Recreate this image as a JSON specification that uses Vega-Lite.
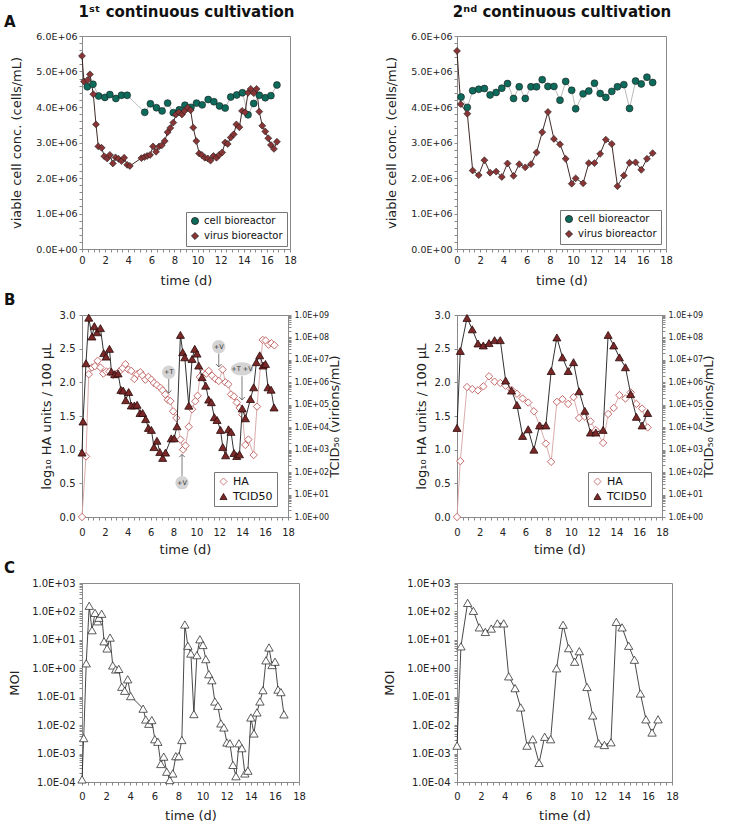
{
"$schema": "https://vega.github.io/schema/vega-lite/v6.json",
"background": "white",
"padding": {"left": 3, "top": 3, "right": 3, "bottom": 3},
"config": {
  "font": "DejaVu Sans",
  "view": {"stroke": "#8a8a8a", "strokeWidth": 1},
  "axis": {"grid": false, "domainColor": "#8a8a8a", "tickColor": "#8a8a8a", "labelFont": "DejaVu Sans", "labelFontSize": 9, "labelColor": "#222", "titleFont": "DejaVu Sans", "titleFontSize": 13, "titleFontWeight": "normal", "titleColor": "#222", "tickSize": 3, "labelPadding": 2, "labelFlush": false, "labelOverlap": false},
  "legend": {"labelFont": "DejaVu Sans", "labelFontSize": 10, "labelColor": "#111", "strokeColor": "#777", "fillColor": "white", "padding": 4, "rowPadding": 3, "symbolSize": 50, "symbolStrokeWidth": 0.8, "cornerRadius": 0},
  "title": {"anchor": "start", "frame": "group", "fontSize": 15, "fontWeight": "bold", "font": "DejaVu Sans", "color": "#111", "offset": 2}
},
"datasets": {
  "a1": [
    {"t":0.46,"v":4.57e6,"s":"cell bioreactor"},{"t":0.95,"v":4.64e6,"s":"cell bioreactor"},{"t":1.44,"v":4.31e6,"s":"cell bioreactor"},{"t":1.98,"v":4.27e6,"s":"cell bioreactor"},{"t":2.41,"v":4.35e6,"s":"cell bioreactor"},{"t":2.93,"v":4.24e6,"s":"cell bioreactor"},{"t":3.42,"v":4.33e6,"s":"cell bioreactor"},{"t":3.91,"v":4.33e6,"s":"cell bioreactor"},{"t":5.43,"v":3.85e6,"s":"cell bioreactor"},{"t":5.92,"v":4.09e6,"s":"cell bioreactor"},{"t":6.44,"v":3.98e6,"s":"cell bioreactor"},{"t":6.93,"v":3.89e6,"s":"cell bioreactor"},{"t":7.41,"v":4.11e6,"s":"cell bioreactor"},{"t":7.9,"v":3.84e6,"s":"cell bioreactor"},{"t":8.42,"v":3.92e6,"s":"cell bioreactor"},{"t":8.91,"v":4.05e6,"s":"cell bioreactor"},{"t":9.43,"v":3.99e6,"s":"cell bioreactor"},{"t":9.91,"v":4.11e6,"s":"cell bioreactor"},{"t":10.4,"v":4.06e6,"s":"cell bioreactor"},{"t":10.92,"v":4.21e6,"s":"cell bioreactor"},{"t":11.41,"v":4.15e6,"s":"cell bioreactor"},{"t":11.9,"v":4.03e6,"s":"cell bioreactor"},{"t":12.39,"v":3.97e6,"s":"cell bioreactor"},{"t":12.87,"v":4.28e6,"s":"cell bioreactor"},{"t":13.39,"v":4.34e6,"s":"cell bioreactor"},{"t":13.88,"v":4.4e6,"s":"cell bioreactor"},{"t":14.37,"v":3.78e6,"s":"cell bioreactor"},{"t":14.86,"v":4.1e6,"s":"cell bioreactor"},{"t":15.34,"v":4.33e6,"s":"cell bioreactor"},{"t":15.86,"v":4.26e6,"s":"cell bioreactor"},{"t":16.35,"v":4.32e6,"s":"cell bioreactor"},{"t":16.87,"v":4.62e6,"s":"cell bioreactor"},
    {"t":0,"v":5.44e6,"s":"virus bioreactor"},{"t":0.17,"v":4.72e6,"s":"virus bioreactor"},{"t":0.49,"v":4.76e6,"s":"virus bioreactor"},{"t":0.69,"v":4.92e6,"s":"virus bioreactor"},{"t":0.98,"v":4.36e6,"s":"virus bioreactor"},{"t":1.21,"v":3.51e6,"s":"virus bioreactor"},{"t":1.41,"v":2.89e6,"s":"virus bioreactor"},{"t":1.7,"v":2.85e6,"s":"virus bioreactor"},{"t":1.93,"v":2.61e6,"s":"virus bioreactor"},{"t":2.18,"v":2.55e6,"s":"virus bioreactor"},{"t":2.41,"v":2.65e6,"s":"virus bioreactor"},{"t":2.67,"v":2.41e6,"s":"virus bioreactor"},{"t":2.9,"v":2.58e6,"s":"virus bioreactor"},{"t":3.16,"v":2.54e6,"s":"virus bioreactor"},{"t":3.42,"v":2.48e6,"s":"virus bioreactor"},{"t":3.65,"v":2.57e6,"s":"virus bioreactor"},{"t":3.91,"v":2.37e6,"s":"virus bioreactor"},{"t":4.14,"v":2.34e6,"s":"virus bioreactor"},{"t":5.14,"v":2.56e6,"s":"virus bioreactor"},{"t":5.4,"v":2.59e6,"s":"virus bioreactor"},{"t":5.63,"v":2.62e6,"s":"virus bioreactor"},{"t":5.89,"v":2.65e6,"s":"virus bioreactor"},{"t":6.15,"v":2.89e6,"s":"virus bioreactor"},{"t":6.41,"v":2.74e6,"s":"virus bioreactor"},{"t":6.67,"v":2.89e6,"s":"virus bioreactor"},{"t":6.9,"v":2.92e6,"s":"virus bioreactor"},{"t":7.16,"v":3.04e6,"s":"virus bioreactor"},{"t":7.41,"v":3.29e6,"s":"virus bioreactor"},{"t":7.64,"v":3.41e6,"s":"virus bioreactor"},{"t":7.9,"v":3.56e6,"s":"virus bioreactor"},{"t":8.13,"v":3.79e6,"s":"virus bioreactor"},{"t":8.39,"v":3.85e6,"s":"virus bioreactor"},{"t":8.65,"v":3.79e6,"s":"virus bioreactor"},{"t":8.88,"v":3.89e6,"s":"virus bioreactor"},{"t":9.14,"v":3.98e6,"s":"virus bioreactor"},{"t":9.4,"v":3.91e6,"s":"virus bioreactor"},{"t":9.63,"v":3.42e6,"s":"virus bioreactor"},{"t":9.89,"v":3.04e6,"s":"virus bioreactor"},{"t":10.14,"v":2.69e6,"s":"virus bioreactor"},{"t":10.37,"v":2.65e6,"s":"virus bioreactor"},{"t":10.63,"v":2.57e6,"s":"virus bioreactor"},{"t":10.89,"v":2.55e6,"s":"virus bioreactor"},{"t":11.12,"v":2.49e6,"s":"virus bioreactor"},{"t":11.38,"v":2.62e6,"s":"virus bioreactor"},{"t":11.64,"v":2.57e6,"s":"virus bioreactor"},{"t":11.87,"v":2.65e6,"s":"virus bioreactor"},{"t":12.13,"v":2.72e6,"s":"virus bioreactor"},{"t":12.39,"v":3.0e6,"s":"virus bioreactor"},{"t":12.61,"v":2.96e6,"s":"virus bioreactor"},{"t":12.87,"v":3.14e6,"s":"virus bioreactor"},{"t":13.13,"v":3.23e6,"s":"virus bioreactor"},{"t":13.36,"v":3.51e6,"s":"virus bioreactor"},{"t":13.62,"v":3.43e6,"s":"virus bioreactor"},{"t":13.85,"v":3.89e6,"s":"virus bioreactor"},{"t":14.11,"v":3.85e6,"s":"virus bioreactor"},{"t":14.37,"v":4.4e6,"s":"virus bioreactor"},{"t":14.6,"v":4.51e6,"s":"virus bioreactor"},{"t":14.86,"v":4.39e6,"s":"virus bioreactor"},{"t":15.11,"v":4.51e6,"s":"virus bioreactor"},{"t":15.34,"v":3.87e6,"s":"virus bioreactor"},{"t":15.6,"v":3.47e6,"s":"virus bioreactor"},{"t":15.86,"v":3.31e6,"s":"virus bioreactor"},{"t":16.12,"v":3.12e6,"s":"virus bioreactor"},{"t":16.35,"v":2.93e6,"s":"virus bioreactor"},{"t":16.61,"v":2.82e6,"s":"virus bioreactor"},{"t":16.87,"v":3.02e6,"s":"virus bioreactor"}
  ],
  "a2": [
    {"t":0.35,"v":4.28e6,"s":"cell bioreactor"},{"t":0.89,"v":3.99e6,"s":"cell bioreactor"},{"t":1.35,"v":4.46e6,"s":"cell bioreactor"},{"t":1.87,"v":4.5e6,"s":"cell bioreactor"},{"t":2.36,"v":4.52e6,"s":"cell bioreactor"},{"t":2.85,"v":4.34e6,"s":"cell bioreactor"},{"t":3.37,"v":4.41e6,"s":"cell bioreactor"},{"t":3.86,"v":4.53e6,"s":"cell bioreactor"},{"t":4.35,"v":4.66e6,"s":"cell bioreactor"},{"t":4.87,"v":4.24e6,"s":"cell bioreactor"},{"t":5.36,"v":4.57e6,"s":"cell bioreactor"},{"t":5.88,"v":4.24e6,"s":"cell bioreactor"},{"t":6.37,"v":4.57e6,"s":"cell bioreactor"},{"t":6.85,"v":4.57e6,"s":"cell bioreactor"},{"t":7.34,"v":4.77e6,"s":"cell bioreactor"},{"t":7.83,"v":4.58e6,"s":"cell bioreactor"},{"t":8.35,"v":4.58e6,"s":"cell bioreactor"},{"t":8.87,"v":4.19e6,"s":"cell bioreactor"},{"t":9.36,"v":4.72e6,"s":"cell bioreactor"},{"t":9.88,"v":4.47e6,"s":"cell bioreactor"},{"t":10.22,"v":3.95e6,"s":"cell bioreactor"},{"t":10.86,"v":4.37e6,"s":"cell bioreactor"},{"t":11.35,"v":4.45e6,"s":"cell bioreactor"},{"t":11.84,"v":4.67e6,"s":"cell bioreactor"},{"t":12.33,"v":4.38e6,"s":"cell bioreactor"},{"t":12.82,"v":4.27e6,"s":"cell bioreactor"},{"t":13.33,"v":4.44e6,"s":"cell bioreactor"},{"t":13.82,"v":4.57e6,"s":"cell bioreactor"},{"t":14.37,"v":4.63e6,"s":"cell bioreactor"},{"t":14.86,"v":3.96e6,"s":"cell bioreactor"},{"t":15.38,"v":4.73e6,"s":"cell bioreactor"},{"t":15.87,"v":4.65e6,"s":"cell bioreactor"},{"t":16.36,"v":4.84e6,"s":"cell bioreactor"},{"t":16.85,"v":4.69e6,"s":"cell bioreactor"},
    {"t":0,"v":5.58e6,"s":"virus bioreactor"},{"t":0.32,"v":4.08e6,"s":"virus bioreactor"},{"t":0.89,"v":3.81e6,"s":"virus bioreactor"},{"t":1.35,"v":2.21e6,"s":"virus bioreactor"},{"t":1.87,"v":2.08e6,"s":"virus bioreactor"},{"t":2.36,"v":2.5e6,"s":"virus bioreactor"},{"t":2.85,"v":2.15e6,"s":"virus bioreactor"},{"t":3.37,"v":2.18e6,"s":"virus bioreactor"},{"t":3.86,"v":2.03e6,"s":"virus bioreactor"},{"t":4.35,"v":2.41e6,"s":"virus bioreactor"},{"t":4.87,"v":2.06e6,"s":"virus bioreactor"},{"t":5.36,"v":2.39e6,"s":"virus bioreactor"},{"t":5.88,"v":2.3e6,"s":"virus bioreactor"},{"t":6.37,"v":2.39e6,"s":"virus bioreactor"},{"t":6.85,"v":2.72e6,"s":"virus bioreactor"},{"t":7.34,"v":3.29e6,"s":"virus bioreactor"},{"t":7.83,"v":3.86e6,"s":"virus bioreactor"},{"t":8.35,"v":3.1e6,"s":"virus bioreactor"},{"t":8.87,"v":2.95e6,"s":"virus bioreactor"},{"t":9.36,"v":2.54e6,"s":"virus bioreactor"},{"t":9.88,"v":1.84e6,"s":"virus bioreactor"},{"t":10.22,"v":1.99e6,"s":"virus bioreactor"},{"t":10.86,"v":1.85e6,"s":"virus bioreactor"},{"t":11.35,"v":2.42e6,"s":"virus bioreactor"},{"t":11.84,"v":2.42e6,"s":"virus bioreactor"},{"t":12.33,"v":2.68e6,"s":"virus bioreactor"},{"t":12.82,"v":3.08e6,"s":"virus bioreactor"},{"t":13.33,"v":2.96e6,"s":"virus bioreactor"},{"t":13.82,"v":1.77e6,"s":"virus bioreactor"},{"t":14.37,"v":2.07e6,"s":"virus bioreactor"},{"t":14.86,"v":2.43e6,"s":"virus bioreactor"},{"t":15.38,"v":2.44e6,"s":"virus bioreactor"},{"t":15.87,"v":2.23e6,"s":"virus bioreactor"},{"t":16.36,"v":2.54e6,"s":"virus bioreactor"},{"t":16.85,"v":2.7e6,"s":"virus bioreactor"}
  ],
  "b1ha": [
    {"t":0,"v":0,"s":"HA"},{"t":0.35,"v":0.9,"s":"HA"},{"t":0.59,"v":2.12,"s":"HA"},{"t":0.87,"v":2.22,"s":"HA"},{"t":1.13,"v":2.24,"s":"HA"},{"t":1.37,"v":2.32,"s":"HA"},{"t":1.61,"v":2.22,"s":"HA"},{"t":1.86,"v":2.13,"s":"HA"},{"t":2.13,"v":2.16,"s":"HA"},{"t":2.4,"v":2.16,"s":"HA"},{"t":2.71,"v":2.11,"s":"HA"},{"t":2.98,"v":2.12,"s":"HA"},{"t":3.25,"v":2.16,"s":"HA"},{"t":3.55,"v":2.21,"s":"HA"},{"t":3.79,"v":2.27,"s":"HA"},{"t":4.05,"v":2.19,"s":"HA"},{"t":4.3,"v":2.17,"s":"HA"},{"t":4.57,"v":2.05,"s":"HA"},{"t":4.83,"v":2.12,"s":"HA"},{"t":5.1,"v":2.15,"s":"HA"},{"t":5.3,"v":2.1,"s":"HA"},{"t":5.54,"v":2.04,"s":"HA"},{"t":5.8,"v":2.08,"s":"HA"},{"t":6.06,"v":2.04,"s":"HA"},{"t":6.29,"v":1.99,"s":"HA"},{"t":6.55,"v":1.96,"s":"HA"},{"t":6.85,"v":1.92,"s":"HA"},{"t":7.05,"v":1.88,"s":"HA"},{"t":7.28,"v":1.82,"s":"HA"},{"t":7.5,"v":1.74,"s":"HA"},{"t":7.72,"v":1.72,"s":"HA"},{"t":7.96,"v":1.57,"s":"HA"},{"t":8.25,"v":1.47,"s":"HA"},{"t":8.6,"v":1.15,"s":"HA"},{"t":8.83,"v":1.0,"s":"HA"},{"t":9.04,"v":1.06,"s":"HA"},{"t":9.33,"v":1.34,"s":"HA"},{"t":9.62,"v":1.6,"s":"HA"},{"t":9.9,"v":1.72,"s":"HA"},{"t":10.1,"v":1.8,"s":"HA"},{"t":10.3,"v":2.08,"s":"HA"},{"t":10.55,"v":2.14,"s":"HA"},{"t":10.87,"v":2.13,"s":"HA"},{"t":11.07,"v":2.17,"s":"HA"},{"t":11.36,"v":2.1,"s":"HA"},{"t":11.66,"v":2.05,"s":"HA"},{"t":11.95,"v":2.02,"s":"HA"},{"t":12.29,"v":2.19,"s":"HA"},{"t":12.53,"v":2.0,"s":"HA"},{"t":12.79,"v":1.97,"s":"HA"},{"t":13.02,"v":1.82,"s":"HA"},{"t":13.28,"v":1.79,"s":"HA"},{"t":13.52,"v":1.7,"s":"HA"},{"t":13.78,"v":1.62,"s":"HA"},{"t":14.01,"v":1.52,"s":"HA"},{"t":14.27,"v":1.07,"s":"HA"},{"t":14.54,"v":1.15,"s":"HA"},{"t":15.0,"v":0.92,"s":"HA"},{"t":15.29,"v":1.64,"s":"HA"},{"t":15.79,"v":2.63,"s":"HA"},{"t":16.05,"v":2.62,"s":"HA"},{"t":16.3,"v":2.56,"s":"HA"},{"t":16.55,"v":2.58,"s":"HA"},{"t":16.81,"v":2.55,"s":"HA"}
  ],
  "b1tc": [
    {"t":0,"v":7.4e2,"s":"TCID50"},{"t":0.09,"v":1.8e4,"s":"TCID50"},{"t":0.35,"v":7.1e6,"s":"TCID50"},{"t":0.59,"v":7.6e8,"s":"TCID50"},{"t":0.87,"v":1.1e8,"s":"TCID50"},{"t":1.08,"v":3.2e8,"s":"TCID50"},{"t":1.31,"v":1.7e8,"s":"TCID50"},{"t":1.61,"v":2.6e8,"s":"TCID50"},{"t":1.9,"v":2.0e7,"s":"TCID50"},{"t":2.1,"v":1.4e7,"s":"TCID50"},{"t":2.4,"v":3.1e7,"s":"TCID50"},{"t":2.57,"v":3.0e6,"s":"TCID50"},{"t":2.86,"v":2.3e6,"s":"TCID50"},{"t":3.15,"v":2.5e6,"s":"TCID50"},{"t":3.4,"v":4.6e5,"s":"TCID50"},{"t":3.6,"v":4.3e5,"s":"TCID50"},{"t":3.82,"v":1.6e5,"s":"TCID50"},{"t":4.08,"v":3.7e5,"s":"TCID50"},{"t":4.31,"v":9.3e4,"s":"TCID50"},{"t":4.57,"v":9.3e4,"s":"TCID50"},{"t":4.81,"v":1.0e5,"s":"TCID50"},{"t":5.07,"v":4.3e4,"s":"TCID50"},{"t":5.3,"v":4.3e4,"s":"TCID50"},{"t":5.56,"v":2.3e4,"s":"TCID50"},{"t":5.8,"v":9.3e3,"s":"TCID50"},{"t":6.06,"v":7.6e3,"s":"TCID50"},{"t":6.29,"v":1.3e3,"s":"TCID50"},{"t":6.55,"v":2.5e3,"s":"TCID50"},{"t":6.8,"v":7.9e2,"s":"TCID50"},{"t":7.05,"v":4.3e2,"s":"TCID50"},{"t":7.3,"v":7.4e2,"s":"TCID50"},{"t":7.8,"v":3.2e3,"s":"TCID50"},{"t":8.05,"v":3.2e3,"s":"TCID50"},{"t":8.3,"v":1.1e4,"s":"TCID50"},{"t":8.6,"v":1.3e8,"s":"TCID50"},{"t":8.8,"v":2.2e7,"s":"TCID50"},{"t":8.98,"v":1.3e7,"s":"TCID50"},{"t":9.33,"v":9.1e4,"s":"TCID50"},{"t":9.62,"v":1.1e7,"s":"TCID50"},{"t":9.85,"v":3.1e7,"s":"TCID50"},{"t":10.05,"v":1.9e7,"s":"TCID50"},{"t":10.2,"v":5.6e6,"s":"TCID50"},{"t":10.49,"v":1.7e6,"s":"TCID50"},{"t":10.81,"v":7.1e5,"s":"TCID50"},{"t":11.07,"v":1.7e5,"s":"TCID50"},{"t":11.3,"v":1.3e5,"s":"TCID50"},{"t":11.56,"v":2.8e4,"s":"TCID50"},{"t":11.8,"v":2.1e4,"s":"TCID50"},{"t":12.1,"v":7.6e3,"s":"TCID50"},{"t":12.3,"v":1.3e3,"s":"TCID50"},{"t":12.55,"v":5.6e2,"s":"TCID50"},{"t":12.8,"v":8.1e3,"s":"TCID50"},{"t":13.02,"v":6.2e3,"s":"TCID50"},{"t":13.28,"v":7.1e2,"s":"TCID50"},{"t":13.52,"v":5.2e2,"s":"TCID50"},{"t":13.76,"v":6.2e2,"s":"TCID50"},{"t":14.0,"v":6.9e4,"s":"TCID50"},{"t":14.28,"v":2.5e4,"s":"TCID50"},{"t":14.72,"v":1.8e5,"s":"TCID50"},{"t":15.0,"v":6.0e5,"s":"TCID50"},{"t":15.24,"v":7.9e6,"s":"TCID50"},{"t":15.53,"v":1.6e7,"s":"TCID50"},{"t":15.82,"v":5.6e6,"s":"TCID50"},{"t":16.03,"v":6.6e6,"s":"TCID50"},{"t":16.25,"v":6.0e5,"s":"TCID50"},{"t":16.52,"v":4.7e5,"s":"TCID50"},{"t":16.78,"v":7.6e4,"s":"TCID50"}
  ],
  "b1lab": [{"t":7.58,"v":2.15,"label":"+T"},{"t":8.74,"v":0.51,"label":"+V"},{"t":11.95,"v":2.53,"label":"+V"}],
  "b1lab2": [{"t":13.98,"v":2.2,"label":"+T +V"}],
  "b1txt": [{"t":7.58,"v":2.15,"label":"+T"},{"t":8.74,"v":0.51,"label":"+V"},{"t":11.95,"v":2.53,"label":"+V"},{"t":13.98,"v":2.2,"label":"+T +V"}],
  "b1arr": [{"t":7.58,"v":2.05,"v2":1.84},{"t":8.74,"v":0.61,"v2":0.93},{"t":11.95,"v":2.43,"v2":2.23},{"t":13.98,"v":2.09,"v2":1.74}],
  "b1hdn": [{"t":7.58,"v":1.84},{"t":11.95,"v":2.23},{"t":13.98,"v":1.74}],
  "b1hup": [{"t":8.74,"v":0.93}],
  "b2ha": [
    {"t":0,"v":0,"s":"HA"},{"t":0.29,"v":0.83,"s":"HA"},{"t":0.88,"v":1.93,"s":"HA"},{"t":1.34,"v":1.9,"s":"HA"},{"t":1.84,"v":1.88,"s":"HA"},{"t":2.31,"v":1.94,"s":"HA"},{"t":2.81,"v":2.09,"s":"HA"},{"t":3.3,"v":2.01,"s":"HA"},{"t":3.8,"v":1.99,"s":"HA"},{"t":4.27,"v":1.95,"s":"HA"},{"t":4.79,"v":1.89,"s":"HA"},{"t":5.26,"v":1.83,"s":"HA"},{"t":5.76,"v":1.76,"s":"HA"},{"t":6.25,"v":1.7,"s":"HA"},{"t":6.75,"v":1.57,"s":"HA"},{"t":7.28,"v":1.35,"s":"HA"},{"t":7.8,"v":1.09,"s":"HA"},{"t":8.27,"v":0.82,"s":"HA"},{"t":8.77,"v":1.71,"s":"HA"},{"t":9.26,"v":1.75,"s":"HA"},{"t":9.76,"v":1.68,"s":"HA"},{"t":10.23,"v":1.78,"s":"HA"},{"t":10.72,"v":1.47,"s":"HA"},{"t":11.22,"v":1.49,"s":"HA"},{"t":11.72,"v":1.42,"s":"HA"},{"t":12.19,"v":1.29,"s":"HA"},{"t":12.83,"v":1.1,"s":"HA"},{"t":13.27,"v":1.53,"s":"HA"},{"t":13.76,"v":1.62,"s":"HA"},{"t":14.26,"v":1.81,"s":"HA"},{"t":14.79,"v":1.76,"s":"HA"},{"t":15.25,"v":1.85,"s":"HA"},{"t":15.75,"v":1.68,"s":"HA"},{"t":16.25,"v":1.61,"s":"HA"},{"t":16.74,"v":1.33,"s":"HA"}
  ],
  "b2tc": [
    {"t":0,"v":9.3e3,"s":"TCID50"},{"t":0.29,"v":2.5e7,"s":"TCID50"},{"t":0.88,"v":7.4e8,"s":"TCID50"},{"t":1.34,"v":2.3e8,"s":"TCID50"},{"t":1.84,"v":5.4e7,"s":"TCID50"},{"t":2.31,"v":4.4e7,"s":"TCID50"},{"t":2.81,"v":5.6e7,"s":"TCID50"},{"t":3.3,"v":7.6e7,"s":"TCID50"},{"t":3.8,"v":7.6e7,"s":"TCID50"},{"t":4.27,"v":1.2e6,"s":"TCID50"},{"t":4.79,"v":4.3e5,"s":"TCID50"},{"t":5.26,"v":9.8e4,"s":"TCID50"},{"t":5.76,"v":4.1e3,"s":"TCID50"},{"t":6.25,"v":8.1e3,"s":"TCID50"},{"t":6.75,"v":1.0e3,"s":"TCID50"},{"t":7.25,"v":1.2e4,"s":"TCID50"},{"t":7.8,"v":1.2e4,"s":"TCID50"},{"t":8.27,"v":3.2e6,"s":"TCID50"},{"t":8.77,"v":1.0e8,"s":"TCID50"},{"t":9.26,"v":1.3e7,"s":"TCID50"},{"t":9.76,"v":3.2e6,"s":"TCID50"},{"t":10.23,"v":7.9e6,"s":"TCID50"},{"t":10.72,"v":4.0e5,"s":"TCID50"},{"t":11.22,"v":5.4e4,"s":"TCID50"},{"t":11.72,"v":5.8e3,"s":"TCID50"},{"t":12.19,"v":5.8e3,"s":"TCID50"},{"t":12.83,"v":7.6e3,"s":"TCID50"},{"t":13.27,"v":1.3e8,"s":"TCID50"},{"t":13.76,"v":4.4e7,"s":"TCID50"},{"t":14.26,"v":1.3e7,"s":"TCID50"},{"t":14.79,"v":4.7e6,"s":"TCID50"},{"t":15.25,"v":3.0e5,"s":"TCID50"},{"t":15.75,"v":2.9e4,"s":"TCID50"},{"t":16.25,"v":1.2e4,"s":"TCID50"},{"t":16.74,"v":4.3e4,"s":"TCID50"}
  ],
  "c1": [
    {"t":0,"m":1.23e-4},{"t":0.14,"m":3.5e-3},{"t":0.35,"m":1.5},{"t":0.6,"m":158},{"t":0.83,"m":21.9},{"t":1.08,"m":89},{"t":1.3,"m":45},{"t":1.4,"m":60},{"t":1.63,"m":83},{"t":1.83,"m":8.9},{"t":2.08,"m":5.0},{"t":2.33,"m":12},{"t":2.55,"m":1.26},{"t":2.8,"m":0.91},{"t":3.05,"m":0.95},{"t":3.3,"m":0.224},{"t":3.54,"m":0.162},{"t":3.79,"m":0.41},{"t":4.04,"m":0.105},{"t":5.07,"m":0.038},{"t":5.29,"m":0.0158},{"t":5.54,"m":0.0112},{"t":5.79,"m":0.0151},{"t":6.04,"m":0.0032},{"t":6.29,"m":0.0026},{"t":6.54,"m":4.3e-4},{"t":6.78,"m":7.8e-4},{"t":7.03,"m":2.3e-4},{"t":7.28,"m":1.17e-4},{"t":7.53,"m":2.0e-4},{"t":7.78,"m":8.1e-4},{"t":8.03,"m":8.1e-4},{"t":8.28,"m":0.003},{"t":8.53,"m":34.7},{"t":8.78,"m":6.2},{"t":9.03,"m":3.3},{"t":9.28,"m":0.0245},{"t":9.53,"m":2.9},{"t":9.78,"m":10.5},{"t":10.03,"m":6.6},{"t":10.27,"m":2.1},{"t":10.52,"m":0.62},{"t":10.77,"m":0.38},{"t":11.02,"m":0.068},{"t":11.27,"m":0.048},{"t":11.52,"m":0.0115},{"t":11.77,"m":0.0083},{"t":12.02,"m":0.00245},{"t":12.27,"m":0.0023},{"t":12.52,"m":4.0e-4},{"t":12.77,"m":1.6e-4},{"t":13.02,"m":0.0023},{"t":13.26,"m":0.00155},{"t":13.51,"m":2.0e-4},{"t":13.76,"m":2.5e-4},{"t":14.01,"m":0.0186},{"t":14.26,"m":0.0051},{"t":14.51,"m":0.028},{"t":14.76,"m":0.068},{"t":15.01,"m":0.17},{"t":15.26,"m":1.9},{"t":15.51,"m":5.4},{"t":15.76,"m":1.3},{"t":16.01,"m":1.7},{"t":16.26,"m":0.178},{"t":16.5,"m":0.145},{"t":16.75,"m":0.024}
  ],
  "c2": [
    {"t":0,"m":1.9e-3},{"t":0.33,"m":5.9},{"t":0.89,"m":200},{"t":1.37,"m":105},{"t":1.87,"m":27.5},{"t":2.37,"m":19},{"t":2.87,"m":25},{"t":3.38,"m":38},{"t":3.91,"m":38},{"t":4.33,"m":0.52},{"t":4.86,"m":0.2},{"t":5.33,"m":0.042},{"t":5.86,"m":1.9e-3},{"t":6.34,"m":3.2e-3},{"t":6.87,"m":4.7e-4},{"t":7.34,"m":3.9e-3},{"t":7.84,"m":3.2e-3},{"t":8.34,"m":1.0},{"t":8.88,"m":34},{"t":9.35,"m":5.1},{"t":9.85,"m":1.7},{"t":10.24,"m":4.0},{"t":10.88,"m":0.22},{"t":11.36,"m":0.022},{"t":11.86,"m":2.3e-3},{"t":12.34,"m":2.0e-3},{"t":12.89,"m":2.5e-3},{"t":13.34,"m":43},{"t":13.82,"m":27.5},{"t":14.37,"m":6.2},{"t":14.85,"m":2.0},{"t":15.35,"m":0.13},{"t":15.82,"m":0.016},{"t":16.33,"m":5.5e-3},{"t":16.83,"m":0.016}
  ]
},
"columns": 2,
"bounds": "flush",
"spacing": {"row": 66, "column": 158},
"resolve": {
  "scale": {"x": "independent", "y": "independent", "shape": "independent", "fill": "independent", "stroke": "independent"},
  "legend": {"shape": "independent", "fill": "independent", "stroke": "independent"}
},
"concat": [
  {
    "width": 208, "height": 213,
    "title": {"text": "A", "dx": -78, "dy": 28},
    "resolve": {"axis": {"x": "independent", "y": "independent"}},
    "layer": [
      {"data": {"name": "a1"}, "transform": [{"filter": "datum.s == 'cell bioreactor'"}],
       "mark": {"type": "line", "color": "#a8a8a8", "strokeWidth": 0.8},
       "encoding": {
         "x": {"field": "t", "type": "quantitative", "scale": {"domain": [0, 18], "nice": false, "zero": false},
               "axis": {"values": [0,0.5,1,1.5,2,2.5,3,3.5,4,4.5,5,5.5,6,6.5,7,7.5,8,8.5,9,9.5,10,10.5,11,11.5,12,12.5,13,13.5,14,14.5,15,15.5,16,16.5,17,17.5,18], "labelExpr": "datum.value % 2 == 0 ? format(datum.value, 'd') : ''", "title": "time (d)", "labelFontSize": 10, "labelPadding": 3, "titlePadding": 9}},
         "y": {"field": "v", "type": "quantitative", "scale": {"domain": [0, 6000000], "nice": false},
               "axis": {"values": [0,2e5,4e5,6e5,8e5,1e6,1.2e6,1.4e6,1.6e6,1.8e6,2e6,2.2e6,2.4e6,2.6e6,2.8e6,3e6,3.2e6,3.4e6,3.6e6,3.8e6,4e6,4.2e6,4.4e6,4.6e6,4.8e6,5e6,5.2e6,5.4e6,5.6e6,5.8e6,6e6], "labelExpr": "datum.value % 1000000 == 0 ? (datum.value == 0 ? '0.0E+00' : format(datum.value / 1000000, '.1f') + 'E+06') : ''", "title": "viable cell conc. (cells/mL)", "labelFontSize": 9.5, "titlePadding": 12}}
       }},
      {"data": {"name": "a1"}, "transform": [{"filter": "datum.s == 'virus bioreactor'"}],
       "mark": {"type": "line", "color": "#2a1212", "strokeWidth": 0.9},
       "encoding": {"x": {"field": "t", "type": "quantitative", "axis": null}, "y": {"field": "v", "type": "quantitative", "axis": null}}},
      {"data": {"name": "a1"},
       "mark": {"type": "point", "filled": true, "size": 48, "stroke": "#1c1c1c", "strokeWidth": 0.6, "opacity": 1},
       "encoding": {
         "x": {"field": "t", "type": "quantitative", "axis": null},
         "y": {"field": "v", "type": "quantitative", "axis": null},
         "shape": {"field": "s", "type": "nominal", "scale": {"domain": ["cell bioreactor", "virus bioreactor"], "range": ["circle", "diamond"]}, "legend": {"title": null, "orient": "bottom-right", "offset": 3}},
         "fill": {"field": "s", "type": "nominal", "scale": {"domain": ["cell bioreactor", "virus bioreactor"], "range": ["#0d6b5b", "#8a3535"]}, "legend": {"title": null, "orient": "bottom-right", "offset": 3}}
       }},
      {"data": {"name": "a1"}, "mark": {"type": "point", "opacity": 0},
       "encoding": {
         "x": {"field": "t", "type": "quantitative", "axis": {"orient": "top", "labels": false, "ticks": false, "domain": false, "title": "1ˢᵗ continuous cultivation", "titleFontSize": 15, "titleFontWeight": "bold", "titleColor": "#111", "titlePadding": 17}},
         "y": {"field": "v", "type": "quantitative", "axis": null}
       }}
    ]
  },
  {
    "width": 209, "height": 213,
    "resolve": {"axis": {"x": "independent", "y": "independent"}},
    "layer": [
      {"data": {"name": "a2"}, "transform": [{"filter": "datum.s == 'cell bioreactor'"}],
       "mark": {"type": "line", "color": "#a8a8a8", "strokeWidth": 0.8},
       "encoding": {
         "x": {"field": "t", "type": "quantitative", "scale": {"domain": [0, 18], "nice": false, "zero": false},
               "axis": {"values": [0,0.5,1,1.5,2,2.5,3,3.5,4,4.5,5,5.5,6,6.5,7,7.5,8,8.5,9,9.5,10,10.5,11,11.5,12,12.5,13,13.5,14,14.5,15,15.5,16,16.5,17,17.5,18], "labelExpr": "datum.value % 2 == 0 ? format(datum.value, 'd') : ''", "title": "time (d)", "labelFontSize": 10, "labelPadding": 3, "titlePadding": 9}},
         "y": {"field": "v", "type": "quantitative", "scale": {"domain": [0, 6000000], "nice": false},
               "axis": {"values": [0,2e5,4e5,6e5,8e5,1e6,1.2e6,1.4e6,1.6e6,1.8e6,2e6,2.2e6,2.4e6,2.6e6,2.8e6,3e6,3.2e6,3.4e6,3.6e6,3.8e6,4e6,4.2e6,4.4e6,4.6e6,4.8e6,5e6,5.2e6,5.4e6,5.6e6,5.8e6,6e6], "labelExpr": "datum.value % 1000000 == 0 ? (datum.value == 0 ? '0.0E+00' : format(datum.value / 1000000, '.1f') + 'E+06') : ''", "title": "viable cell conc. (cells/mL)", "labelFontSize": 9.5, "titlePadding": 12}}
       }},
      {"data": {"name": "a2"}, "transform": [{"filter": "datum.s == 'virus bioreactor'"}],
       "mark": {"type": "line", "color": "#2a1212", "strokeWidth": 0.9},
       "encoding": {"x": {"field": "t", "type": "quantitative", "axis": null}, "y": {"field": "v", "type": "quantitative", "axis": null}}},
      {"data": {"name": "a2"},
       "mark": {"type": "point", "filled": true, "size": 48, "stroke": "#1c1c1c", "strokeWidth": 0.6, "opacity": 1},
       "encoding": {
         "x": {"field": "t", "type": "quantitative", "axis": null},
         "y": {"field": "v", "type": "quantitative", "axis": null},
         "shape": {"field": "s", "type": "nominal", "scale": {"domain": ["cell bioreactor", "virus bioreactor"], "range": ["circle", "diamond"]}, "legend": {"title": null, "orient": "bottom-right", "offset": 5}},
         "fill": {"field": "s", "type": "nominal", "scale": {"domain": ["cell bioreactor", "virus bioreactor"], "range": ["#0d6b5b", "#8a3535"]}, "legend": {"title": null, "orient": "bottom-right", "offset": 5}}
       }},
      {"data": {"name": "a2"}, "mark": {"type": "point", "opacity": 0},
       "encoding": {
         "x": {"field": "t", "type": "quantitative", "axis": {"orient": "top", "labels": false, "ticks": false, "domain": false, "title": "2ⁿᵈ continuous cultivation", "titleFontSize": 15, "titleFontWeight": "bold", "titleColor": "#111", "titlePadding": 17}},
         "y": {"field": "v", "type": "quantitative", "axis": null}
       }}
    ]
  },
  {
    "width": 206, "height": 202,
    "title": {"text": "B", "dx": -78},
    "resolve": {"scale": {"y": "independent"}, "axis": {"x": "independent", "y": "independent"}},
    "layer": [
      {"resolve": {"axis": {"x": "independent", "y": "independent"}},
       "layer": [
        {"data": {"name": "b1ha"}, "mark": {"type": "line", "color": "#d6a3a3", "strokeWidth": 0.9},
         "encoding": {
           "x": {"field": "t", "type": "quantitative", "scale": {"domain": [0, 18], "nice": false, "zero": false},
                 "axis": {"values": [0,0.5,1,1.5,2,2.5,3,3.5,4,4.5,5,5.5,6,6.5,7,7.5,8,8.5,9,9.5,10,10.5,11,11.5,12,12.5,13,13.5,14,14.5,15,15.5,16,16.5,17,17.5,18], "labelExpr": "datum.value % 2 == 0 ? format(datum.value, 'd') : ''", "title": "time (d)", "labelPadding": 7, "labelFontSize": 10, "titlePadding": 6}},
           "y": {"field": "v", "type": "quantitative", "scale": {"domain": [0, 3], "nice": false},
                 "axis": {"values": [0, 0.5, 1, 1.5, 2, 2.5, 3], "format": ".1f", "title": "log₁₀ HA units / 100 µL", "labelFontSize": 10, "labelPadding": 4, "titlePadding": 6}}
         }},
        {"data": {"name": "b1ha"}, "mark": {"type": "point", "filled": true, "size": 55, "strokeWidth": 0.9, "opacity": 1},
         "encoding": {
           "x": {"field": "t", "type": "quantitative", "axis": null},
           "y": {"field": "v", "type": "quantitative", "axis": null},
           "shape": {"field": "s", "type": "nominal", "scale": {"domain": ["HA", "TCID50"], "range": ["diamond", "triangle-up"]}, "legend": {"title": null, "orient": "bottom-right", "offset": 11, "labelFontSize": 11}},
           "fill": {"field": "s", "type": "nominal", "scale": {"domain": ["HA", "TCID50"], "range": ["#ffffff", "#7a2828"]}, "legend": {"title": null, "orient": "bottom-right", "offset": 11, "labelFontSize": 11}},
           "stroke": {"field": "s", "type": "nominal", "scale": {"domain": ["HA", "TCID50"], "range": ["#c05a5a", "#2a0a0a"]}, "legend": {"title": null, "orient": "bottom-right", "offset": 11, "labelFontSize": 11}}
         }},
        {"data": {"name": "b1arr"}, "mark": {"type": "rule", "color": "#444444", "strokeWidth": 0.7},
         "encoding": {"x": {"field": "t", "type": "quantitative", "axis": null}, "y": {"field": "v", "type": "quantitative", "axis": null}, "y2": {"field": "v2"}}},
        {"data": {"name": "b1hdn"}, "mark": {"type": "point", "shape": "M-1,-1L0,0L1,-1", "filled": false, "color": "#444444", "strokeWidth": 0.8, "size": 30, "opacity": 1},
         "encoding": {"x": {"field": "t", "type": "quantitative", "axis": null}, "y": {"field": "v", "type": "quantitative", "axis": null}}},
        {"data": {"name": "b1hup"}, "mark": {"type": "point", "shape": "M-1,1L0,0L1,1", "filled": false, "color": "#444444", "strokeWidth": 0.8, "size": 30, "opacity": 1},
         "encoding": {"x": {"field": "t", "type": "quantitative", "axis": null}, "y": {"field": "v", "type": "quantitative", "axis": null}}},
        {"data": {"name": "b1lab"}, "mark": {"type": "point", "shape": "circle", "filled": true, "color": "#d4d4d4", "strokeWidth": 0, "size": 180, "opacity": 1},
         "encoding": {"x": {"field": "t", "type": "quantitative", "axis": null}, "y": {"field": "v", "type": "quantitative", "axis": null}}},
        {"data": {"name": "b1lab2"}, "mark": {"type": "point", "shape": "M-1,0A1,0.6,0,1,1,1,0A1,0.6,0,1,1,-1,0Z", "filled": true, "color": "#d4d4d4", "strokeWidth": 0, "size": 500, "opacity": 1},
         "encoding": {"x": {"field": "t", "type": "quantitative", "axis": null}, "y": {"field": "v", "type": "quantitative", "axis": null}}},
        {"data": {"name": "b1txt"}, "mark": {"type": "text", "fontSize": 6.5, "color": "#333333", "align": "center", "baseline": "middle"},
         "encoding": {"x": {"field": "t", "type": "quantitative", "axis": null}, "y": {"field": "v", "type": "quantitative", "axis": null}, "text": {"field": "label"}}}
      ]},
      {"resolve": {"axis": {"x": "independent", "y": "independent"}},
       "layer": [
        {"data": {"name": "b1tc"}, "mark": {"type": "line", "color": "#1a1a1a", "strokeWidth": 0.9},
         "encoding": {
           "x": {"field": "t", "type": "quantitative", "axis": null},
           "y": {"field": "v", "type": "quantitative", "scale": {"type": "log", "domain": [1, 1000000000]},
                 "axis": {"orient": "right", "values": [1,2,3,4,5,6,7,8,9,10,20,30,40,50,60,70,80,90,100,200,300,400,500,600,700,800,900,1000,2000,3000,4000,5000,6000,7000,8000,9000,1e4,2e4,3e4,4e4,5e4,6e4,7e4,8e4,9e4,1e5,2e5,3e5,4e5,5e5,6e5,7e5,8e5,9e5,1e6,2e6,3e6,4e6,5e6,6e6,7e6,8e6,9e6,1e7,2e7,3e7,4e7,5e7,6e7,7e7,8e7,9e7,1e8,2e8,3e8,4e8,5e8,6e8,7e8,8e8,9e8,1e9], "labelExpr": "abs(log(datum.value)/LN10 - round(log(datum.value)/LN10)) < 0.001 ? '1.0E+0' + round(log(datum.value)/LN10) : ''", "title": "TCID₅₀ (virions/mL)", "titleAngle": 270, "labelFontSize": 8, "labelPadding": 3, "titlePadding": 13}}
         }},
        {"data": {"name": "b1tc"}, "mark": {"type": "point", "filled": true, "size": 65, "strokeWidth": 0.8, "opacity": 1},
         "encoding": {
           "x": {"field": "t", "type": "quantitative", "axis": null},
           "y": {"field": "v", "type": "quantitative", "scale": {"type": "log", "domain": [1, 1000000000]}, "axis": null},
           "shape": {"field": "s", "type": "nominal", "scale": {"domain": ["HA", "TCID50"], "range": ["diamond", "triangle-up"]}, "legend": {"title": null, "orient": "bottom-right", "offset": 11, "labelFontSize": 11}},
           "fill": {"field": "s", "type": "nominal", "scale": {"domain": ["HA", "TCID50"], "range": ["#ffffff", "#7a2828"]}, "legend": {"title": null, "orient": "bottom-right", "offset": 11, "labelFontSize": 11}},
           "stroke": {"field": "s", "type": "nominal", "scale": {"domain": ["HA", "TCID50"], "range": ["#c05a5a", "#2a0a0a"]}, "legend": {"title": null, "orient": "bottom-right", "offset": 11, "labelFontSize": 11}}
         }}
      ]}
    ]
  },
  {
    "width": 205, "height": 202,
    "resolve": {"scale": {"y": "independent"}, "axis": {"x": "independent", "y": "independent"}},
    "layer": [
      {"resolve": {"axis": {"x": "independent", "y": "independent"}},
       "layer": [
        {"data": {"name": "b2ha"}, "mark": {"type": "line", "color": "#d6a3a3", "strokeWidth": 0.9},
         "encoding": {
           "x": {"field": "t", "type": "quantitative", "scale": {"domain": [0, 18], "nice": false, "zero": false},
                 "axis": {"values": [0,0.5,1,1.5,2,2.5,3,3.5,4,4.5,5,5.5,6,6.5,7,7.5,8,8.5,9,9.5,10,10.5,11,11.5,12,12.5,13,13.5,14,14.5,15,15.5,16,16.5,17,17.5,18], "labelExpr": "datum.value % 2 == 0 ? format(datum.value, 'd') : ''", "title": "time (d)", "labelPadding": 7, "labelFontSize": 10, "titlePadding": 6}},
           "y": {"field": "v", "type": "quantitative", "scale": {"domain": [0, 3], "nice": false},
                 "axis": {"values": [0, 0.5, 1, 1.5, 2, 2.5, 3], "format": ".1f", "title": "log₁₀ HA units / 100 µL", "labelFontSize": 10, "labelPadding": 4, "titlePadding": 6}}
         }},
        {"data": {"name": "b2ha"}, "mark": {"type": "point", "filled": true, "size": 55, "strokeWidth": 0.9, "opacity": 1},
         "encoding": {
           "x": {"field": "t", "type": "quantitative", "axis": null},
           "y": {"field": "v", "type": "quantitative", "axis": null},
           "shape": {"field": "s", "type": "nominal", "scale": {"domain": ["HA", "TCID50"], "range": ["diamond", "triangle-up"]}, "legend": {"title": null, "orient": "bottom-right", "offset": 11, "labelFontSize": 11}},
           "fill": {"field": "s", "type": "nominal", "scale": {"domain": ["HA", "TCID50"], "range": ["#ffffff", "#7a2828"]}, "legend": {"title": null, "orient": "bottom-right", "offset": 11, "labelFontSize": 11}},
           "stroke": {"field": "s", "type": "nominal", "scale": {"domain": ["HA", "TCID50"], "range": ["#c05a5a", "#2a0a0a"]}, "legend": {"title": null, "orient": "bottom-right", "offset": 11, "labelFontSize": 11}}
         }}
      ]},
      {"resolve": {"axis": {"x": "independent", "y": "independent"}},
       "layer": [
        {"data": {"name": "b2tc"}, "mark": {"type": "line", "color": "#1a1a1a", "strokeWidth": 0.9},
         "encoding": {
           "x": {"field": "t", "type": "quantitative", "axis": null},
           "y": {"field": "v", "type": "quantitative", "scale": {"type": "log", "domain": [1, 1000000000]},
                 "axis": {"orient": "right", "values": [1,2,3,4,5,6,7,8,9,10,20,30,40,50,60,70,80,90,100,200,300,400,500,600,700,800,900,1000,2000,3000,4000,5000,6000,7000,8000,9000,1e4,2e4,3e4,4e4,5e4,6e4,7e4,8e4,9e4,1e5,2e5,3e5,4e5,5e5,6e5,7e5,8e5,9e5,1e6,2e6,3e6,4e6,5e6,6e6,7e6,8e6,9e6,1e7,2e7,3e7,4e7,5e7,6e7,7e7,8e7,9e7,1e8,2e8,3e8,4e8,5e8,6e8,7e8,8e8,9e8,1e9], "labelExpr": "abs(log(datum.value)/LN10 - round(log(datum.value)/LN10)) < 0.001 ? '1.0E+0' + round(log(datum.value)/LN10) : ''", "title": "TCID₅₀ (virions/mL)", "titleAngle": 270, "labelFontSize": 8, "labelPadding": 3, "titlePadding": 13}}
         }},
        {"data": {"name": "b2tc"}, "mark": {"type": "point", "filled": true, "size": 65, "strokeWidth": 0.8, "opacity": 1},
         "encoding": {
           "x": {"field": "t", "type": "quantitative", "axis": null},
           "y": {"field": "v", "type": "quantitative", "scale": {"type": "log", "domain": [1, 1000000000]}, "axis": null},
           "shape": {"field": "s", "type": "nominal", "scale": {"domain": ["HA", "TCID50"], "range": ["diamond", "triangle-up"]}, "legend": {"title": null, "orient": "bottom-right", "offset": 11, "labelFontSize": 11}},
           "fill": {"field": "s", "type": "nominal", "scale": {"domain": ["HA", "TCID50"], "range": ["#ffffff", "#7a2828"]}, "legend": {"title": null, "orient": "bottom-right", "offset": 11, "labelFontSize": 11}},
           "stroke": {"field": "s", "type": "nominal", "scale": {"domain": ["HA", "TCID50"], "range": ["#c05a5a", "#2a0a0a"]}, "legend": {"title": null, "orient": "bottom-right", "offset": 11, "labelFontSize": 11}}
         }}
      ]}
    ]
  },
  {
    "width": 217, "height": 199,
    "title": {"text": "C", "dx": -78},
    "resolve": {"axis": {"x": "independent", "y": "independent"}},
    "layer": [
      {"data": {"name": "c1"}, "mark": {"type": "line", "color": "#1a1a1a", "strokeWidth": 0.8},
       "encoding": {
         "x": {"field": "t", "type": "quantitative", "scale": {"domain": [0, 18], "nice": false, "zero": false},
               "axis": {"values": [0,0.5,1,1.5,2,2.5,3,3.5,4,4.5,5,5.5,6,6.5,7,7.5,8,8.5,9,9.5,10,10.5,11,11.5,12,12.5,13,13.5,14,14.5,15,15.5,16,16.5,17,17.5,18], "labelExpr": "datum.value % 2 == 0 ? format(datum.value, 'd') : ''", "title": "time (d)", "labelPadding": 6, "labelFontSize": 10, "titlePadding": 8}},
         "y": {"field": "m", "type": "quantitative", "scale": {"type": "log", "domain": [0.0001, 1000]},
               "axis": {"values": [1e-4,2e-4,3e-4,4e-4,5e-4,6e-4,7e-4,8e-4,9e-4,1e-3,2e-3,3e-3,4e-3,5e-3,6e-3,7e-3,8e-3,9e-3,0.01,0.02,0.03,0.04,0.05,0.06,0.07,0.08,0.09,0.1,0.2,0.3,0.4,0.5,0.6,0.7,0.8,0.9,1,2,3,4,5,6,7,8,9,10,20,30,40,50,60,70,80,90,100,200,300,400,500,600,700,800,900,1000], "labelExpr": "abs(log(datum.value)/LN10 - round(log(datum.value)/LN10)) < 0.001 ? ('1.0E' + (round(log(datum.value)/LN10) < 0 ? '-0' + abs(round(log(datum.value)/LN10)) : '+0' + round(log(datum.value)/LN10))) : ''", "title": "MOI", "labelFontSize": 10, "labelPadding": 4, "titlePadding": 10}}
       }},
      {"data": {"name": "c1"}, "mark": {"type": "point", "shape": "triangle-up", "filled": true, "fill": "#ffffff", "stroke": "#333333", "strokeWidth": 0.8, "size": 70, "opacity": 1},
       "encoding": {"x": {"field": "t", "type": "quantitative", "axis": null}, "y": {"field": "m", "type": "quantitative", "axis": null}}}
    ]
  },
  {
    "width": 215, "height": 199,
    "resolve": {"axis": {"x": "independent", "y": "independent"}},
    "layer": [
      {"data": {"name": "c2"}, "mark": {"type": "line", "color": "#1a1a1a", "strokeWidth": 0.8},
       "encoding": {
         "x": {"field": "t", "type": "quantitative", "scale": {"domain": [0, 18], "nice": false, "zero": false},
               "axis": {"values": [0,0.5,1,1.5,2,2.5,3,3.5,4,4.5,5,5.5,6,6.5,7,7.5,8,8.5,9,9.5,10,10.5,11,11.5,12,12.5,13,13.5,14,14.5,15,15.5,16,16.5,17,17.5,18], "labelExpr": "datum.value % 2 == 0 ? format(datum.value, 'd') : ''", "title": "time (d)", "labelPadding": 6, "labelFontSize": 10, "titlePadding": 8}},
         "y": {"field": "m", "type": "quantitative", "scale": {"type": "log", "domain": [0.0001, 1000]},
               "axis": {"values": [1e-4,2e-4,3e-4,4e-4,5e-4,6e-4,7e-4,8e-4,9e-4,1e-3,2e-3,3e-3,4e-3,5e-3,6e-3,7e-3,8e-3,9e-3,0.01,0.02,0.03,0.04,0.05,0.06,0.07,0.08,0.09,0.1,0.2,0.3,0.4,0.5,0.6,0.7,0.8,0.9,1,2,3,4,5,6,7,8,9,10,20,30,40,50,60,70,80,90,100,200,300,400,500,600,700,800,900,1000], "labelExpr": "abs(log(datum.value)/LN10 - round(log(datum.value)/LN10)) < 0.001 ? ('1.0E' + (round(log(datum.value)/LN10) < 0 ? '-0' + abs(round(log(datum.value)/LN10)) : '+0' + round(log(datum.value)/LN10))) : ''", "title": "MOI", "labelFontSize": 10, "labelPadding": 4, "titlePadding": 10}}
       }},
      {"data": {"name": "c2"}, "mark": {"type": "point", "shape": "triangle-up", "filled": true, "fill": "#ffffff", "stroke": "#333333", "strokeWidth": 0.8, "size": 70, "opacity": 1},
       "encoding": {"x": {"field": "t", "type": "quantitative", "axis": null}, "y": {"field": "m", "type": "quantitative", "axis": null}}}
    ]
  }
]
}
